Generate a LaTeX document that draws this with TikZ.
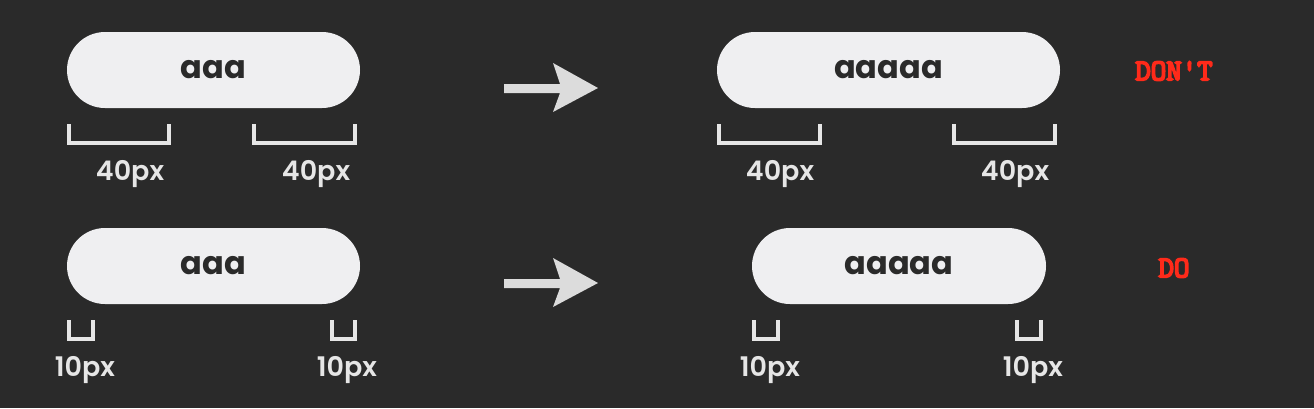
\documentclass[tikz,border=0pt]{standalone}
\usepackage{fontspec}
\newfontfamily\pop{Poppins}[BoldFont={* Bold}]
\newfontfamily\popmed{Poppins SemiBold}
\newfontfamily\vfont{Latin Modern Mono}[FakeBold=6]
\definecolor{bg}{HTML}{2A2A2A}
\definecolor{pillc}{HTML}{EFEFF1}
\definecolor{ink}{HTML}{2A2A2A}
\definecolor{brk}{HTML}{E6E6E6}
\definecolor{arr}{HTML}{DCDCDC}
\definecolor{warn}{HTML}{FF2A1A}
\begin{document}
\begin{tikzpicture}[x=1pt,y=-1pt,
  pill/.style={fill=pillc, draw=none, rounded corners=38pt, minimum height=76pt, inner sep=0pt,
    font=\pop\bfseries\fontsize{32}{32}\selectfont, text=ink},
  lbl/.style={font=\popmed\fontsize{27}{27}\selectfont, text=brk, inner sep=0pt},
  brack/.style={draw=brk, line width=4pt, line cap=butt, line join=miter},
  verdict/.style={font=\vfont\fontsize{30}{30}\selectfont, text=warn, inner sep=0pt}]
\fill[bg] (0,0) rectangle (1314,408);
\useasboundingbox (0,0) rectangle (1314,408);
% top row
\node[pill, minimum width=293pt] (p1) at (213.5,70) {aaa};
\node[pill, minimum width=343pt] (p2) at (888.5,70) {aaaaa};
\draw[brack] (69,124) -- (69,143) -- (169,143) -- (169,124);
\draw[brack] (254,124) -- (254,143) -- (355,143) -- (355,124);
\draw[brack] (719,124) -- (719,143) -- (820,143) -- (820,124);
\draw[brack] (954,124) -- (954,143) -- (1055,143) -- (1055,124);
\node[lbl] (l1) at (130,174) {40px};
\node[lbl] (l2) at (316,174) {40px};
\node[lbl] (l3) at (780,174) {40px};
\node[lbl] (l4) at (1015,174) {40px};
\fill[arr] (504,84) -- (560,84) -- (553,63) -- (598,88) -- (553,112) -- (560,93) -- (504,93) -- cycle;
\node[verdict] (v1) at (1174,71) {DON'T};
% bottom row
\node[pill, minimum width=293pt] (p3) at (213.5,266) {aaa};
\node[pill, minimum width=294pt] (p4) at (899,266) {aaaaa};
\draw[brack] (69,320) -- (69,339) -- (93,339) -- (93,320);
\draw[brack] (332,320) -- (332,339) -- (355,339) -- (355,320);
\draw[brack] (754,320) -- (754,339) -- (778,339) -- (778,320);
\draw[brack] (1017,320) -- (1017,339) -- (1041,339) -- (1041,320);
\node[lbl] (l5) at (85,370) {10px};
\node[lbl] (l6) at (347,370) {10px};
\node[lbl] (l7) at (770,370) {10px};
\node[lbl] (l8) at (1033,370) {10px};
\fill[arr] (504,279) -- (560,279) -- (553,258) -- (598,283) -- (553,307) -- (560,288) -- (504,288) -- cycle;
\node[verdict] (v2) at (1174,268) {DO};
\end{tikzpicture}
\end{document}
